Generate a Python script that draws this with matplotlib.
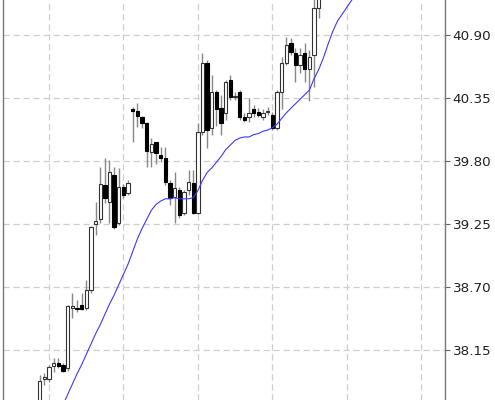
import matplotlib
matplotlib.use("Agg")
import matplotlib.pyplot as plt
import numpy as np

# OHLC candles (one per bar)
opens = [37.67, 37.90, 37.90, 38.01, 38.04, 38.02, 37.99, 38.52, 38.52, 38.54,
         38.52, 38.67, 39.25, 39.29, 39.59, 39.44, 39.68, 39.26, 39.57, 39.52,
         40.25, 40.24, 40.18, 40.13, 39.88, 39.97, 39.85, 39.83, 39.61, 39.49,
         39.55, 39.35, 39.55, 39.61, 39.35, 40.05, 40.66, 40.09, 40.40, 40.26,
         40.22, 40.51, 40.36, 40.40, 40.18, 40.18, 40.25, 40.23, 40.18, 40.23,
         40.20, 40.09, 40.40, 40.66, 40.83, 40.74, 40.64, 40.74, 40.60, 40.73,
         41.14]
highs = [37.93, 37.95, 38.02, 38.08, 38.08, 38.04, 38.54, 38.65, 38.59, 38.65,
         38.76, 39.23, 39.44, 39.75, 39.83, 39.81, 39.75, 39.74, 39.60, 39.63,
         40.27, 40.31, 40.19, 40.14, 40.00, 39.97, 39.92, 39.92, 39.63, 39.70,
         39.57, 39.55, 39.72, 39.72, 40.13, 40.74, 40.68, 40.55, 40.42, 40.38,
         40.51, 40.55, 40.40, 40.42, 40.22, 40.35, 40.29, 40.26, 40.25, 40.27,
         40.23, 40.42, 40.71, 40.88, 40.87, 40.79, 40.79, 40.83, 40.77, 41.25,
         41.35]
lows = [37.63, 37.84, 37.87, 37.96, 37.99, 37.96, 37.97, 38.43, 38.48, 38.50,
        38.50, 38.65, 39.15, 39.26, 39.43, 39.26, 39.21, 39.24, 39.48, 39.50,
        39.97, 40.10, 40.09, 39.75, 39.75, 39.77, 39.79, 39.59, 39.42, 39.26,
        39.30, 39.33, 39.50, 39.34, 39.34, 40.03, 39.91, 40.03, 40.11, 40.03,
        40.16, 40.33, 40.33, 40.16, 40.14, 40.14, 40.18, 40.18, 40.16, 40.20,
        40.07, 40.07, 40.25, 40.64, 40.73, 40.49, 40.57, 40.49, 40.32, 40.45,
        41.05]
closes = [37.88, 37.91, 38.00, 38.04, 38.01, 37.97, 38.53, 38.53, 38.51, 38.51,
          38.67, 39.22, 39.28, 39.60, 39.48, 39.70, 39.22, 39.57, 39.50, 39.61,
          40.24, 40.19, 40.13, 39.89, 39.95, 39.87, 39.83, 39.62, 39.48, 39.56,
          39.33, 39.53, 39.62, 39.35, 40.05, 40.66, 40.07, 40.40, 40.25, 40.13,
          40.49, 40.36, 40.37, 40.18, 40.16, 40.22, 40.22, 40.20, 40.22, 40.24,
          40.09, 40.40, 40.66, 40.81, 40.75, 40.64, 40.73, 40.60, 40.71, 41.14,
          41.29]

# moving average line, starting at bar ma_first_bar
ma_first_bar = 5
ma_values = [37.67, 37.76, 37.85, 37.94, 38.02, 38.11, 38.20, 38.29, 38.37, 38.46,
             38.55, 38.63, 38.72, 38.81, 38.90, 39.01, 39.12, 39.21, 39.29, 39.37,
             39.42, 39.45, 39.47, 39.47, 39.48, 39.47, 39.47, 39.47, 39.48, 39.54,
             39.63, 39.70, 39.74, 39.79, 39.84, 39.90, 39.94, 39.98, 40.00, 40.01,
             40.01, 40.03, 40.04, 40.06, 40.07, 40.09, 40.12, 40.17, 40.22, 40.26,
             40.30, 40.34, 40.38, 40.42, 40.52, 40.60, 40.70, 40.82, 40.93, 41.02,
             41.08, 41.14, 41.20, 41.25]

y_ticks = [38.15, 38.70, 39.25, 39.80, 40.35, 40.90]

fig = plt.figure(figsize=(4.95, 4.0), dpi=100)
ax = fig.add_axes([3 / 495, 0, 442 / 495, 1])

n = len(opens)
idx = np.arange(n)
o = np.array(opens); c = np.array(closes)
h = np.array(highs); l = np.array(lows)
up = c >= o

ax.vlines(idx, l, h, color="#888888", linewidth=1.0, zorder=2)
bottoms = np.minimum(o, c)
heights = np.abs(c - o)
ax.bar(idx[up], heights[up], bottom=bottoms[up], width=0.72,
       facecolor="white", edgecolor="#333333", linewidth=0.8, zorder=3)
ax.bar(idx[~up], heights[~up], bottom=bottoms[~up], width=0.72,
       facecolor="black", edgecolor="black", linewidth=0.8, zorder=3)

ma_x = np.arange(ma_first_bar, ma_first_bar + len(ma_values))
ax.plot(ma_x, ma_values, color="#3b3bff", linewidth=0.8, zorder=4)

ax.set_xlim(-7.9, 87.15)
ax.set_ylim(37.713, 41.206)
ax.set_xticks(np.arange(2, 88, 16))
ax.tick_params(axis="x", length=0, labelbottom=False)
ax.yaxis.tick_right()
ax.set_yticks(y_ticks)
ax.set_yticklabels([f"{v:.2f}" for v in y_ticks])
ax.tick_params(axis="y", direction="out", length=3.5, width=0.8, color="#666666",
               labelsize=9.7, labelcolor="#222222", pad=2)
ax.grid(True, color="#cfcfcf", linestyle=(0, (5, 3)), linewidth=0.9, zorder=0)
ax.set_axisbelow(True)
for s in ("top", "bottom"):
    ax.spines[s].set_visible(False)
for s in ("left", "right"):
    ax.spines[s].set_color("#777777")
    ax.spines[s].set_linewidth(1.0)

fig.savefig("out.png", dpi=100)
